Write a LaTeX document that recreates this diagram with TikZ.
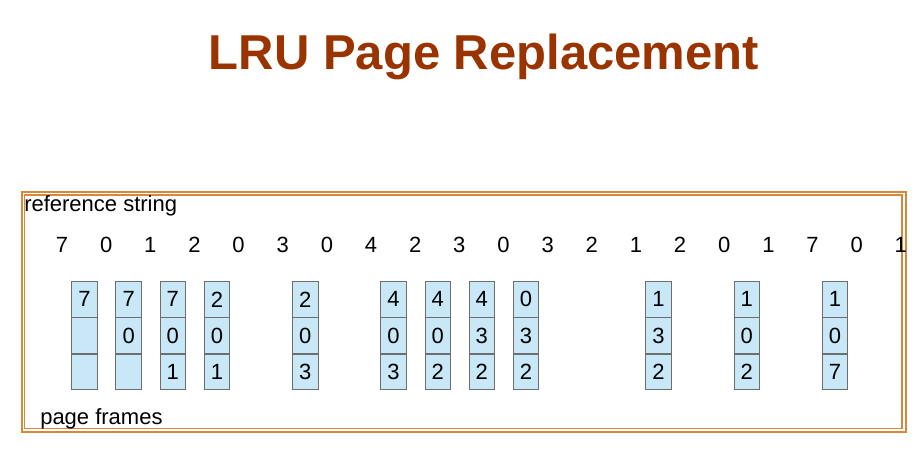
\documentclass[tikz,border=0pt]{standalone}
\usepackage{fontspec}
\setmainfont{Liberation Sans}
\usetikzlibrary{positioning}
\definecolor{titlebrown}{HTML}{993300}
\definecolor{frameorange}{HTML}{D9873A}
\definecolor{cellblue}{HTML}{C8E7F7}
\definecolor{cellgray}{HTML}{6E6E6E}

\begin{document}
\begin{tikzpicture}[x=0.75pt,y=-0.75pt,
	label/.style={font=\fontsize{16.5}{19}\selectfont, inner sep=0pt},
	cell/.style={draw=cellgray, line width=0.6pt, fill=cellblue, minimum width=19.2pt,
		minimum height=26.5pt, inner sep=0pt, font=\fontsize{16.5}{19}\selectfont}]
	\useasboundingbox (0,0) rectangle (923,454);
	\node[font=\fontsize{36.75}{40}\selectfont\bfseries, text=titlebrown, anchor=base, inner sep=0pt] (title) at (484,69) {LRU Page Replacement};
	% double frame
	\draw[frameorange, line width=1.5pt] (21.5,191.5) rectangle (905.5,432);
	\draw[frameorange, line width=0.9pt] (24.5,195) rectangle (902,428.5);
	\node[label, anchor=base west] (refstr) at (24,211) {reference string};
	\node[label, anchor=base west] (frames) at (40,424) {page frames};
	% reference string
	\foreach \p [count=\i from 0] in {7,0,1,2,0,3,0,4,2,3,0,3,2,1,2,0,1,7,0,1}
		\node[label, anchor=base] (r\i) at (62+44.15*\i,252) {\p};
	% frames after each fault
	\foreach \k/\a/\b/\c in {0/7/{}/{}, 1/7/0/{}, 2/7/0/1, 3/2/0/1, 5/2/0/3, 7/4/0/3,
		8/4/0/2, 9/4/3/2, 10/0/3/2, 13/1/3/2, 15/1/0/2, 17/1/0/7}
	{
		\node[cell] (f\k a) at (84.5+44.15*\k,299.35) {\a};
		\node[cell, below=0pt of f\k a] (f\k b) {\b};
		\node[cell, below=0pt of f\k b] (f\k c) {\c};
	}
\end{tikzpicture}
\end{document}
